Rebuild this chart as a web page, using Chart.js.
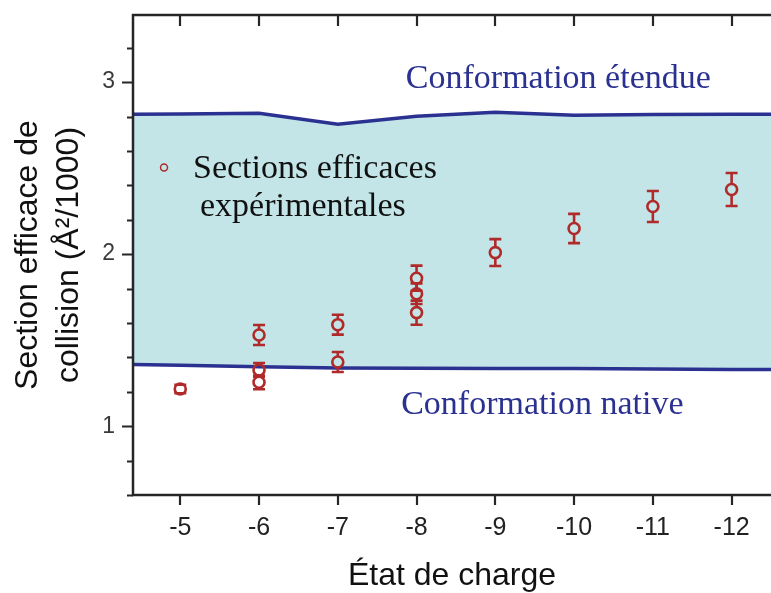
<!DOCTYPE html>
<html>
<head>
<meta charset="utf-8">
<script src="https://cdn.jsdelivr.net/npm/chart.js@4.4.1/dist/chart.umd.min.js"></script>
<style>
html,body{margin:0;padding:0;background:#ffffff;overflow:hidden;}
canvas{display:block;}
</style>
</head>
<body>
<canvas id="chart" width="771" height="593"></canvas>
<script>
// ---- Data ----
const chargeStates = [-5, -6, -6, -6, -7, -7, -8, -8, -8, -9, -10, -11, -12];
const ccsValues    = [1.216, 1.53, 1.327, 1.255, 1.59, 1.373, 1.86, 1.77, 1.66, 2.009, 2.149, 2.277, 2.376];
const ccsErrors    = [0.025, 0.058, 0.04, 0.04, 0.058, 0.058, 0.073, 0.06, 0.07, 0.078, 0.085, 0.09, 0.096];

const boundaryCharges = [-4.4, -5, -6, -7, -8, -9, -10, -11, -12, -12.5];
const extendedCCS     = [2.813, 2.815, 2.819, 2.755, 2.802, 2.825, 2.808, 2.812, 2.813, 2.813];
const nativeCCS       = [1.358, 1.354, 1.346, 1.338, 1.337, 1.336, 1.335, 1.333, 1.330, 1.329];

const xTickValues = [-5, -6, -7, -8, -9, -10, -11, -12];
const yTickLabels = [1, 2, 3];

const legendLabel = ['Sections efficaces', 'expérimentales'];
const extendedLabel = 'Conformation étendue';
const nativeLabel = 'Conformation native';
const xTitle = 'État de charge';
const yTitle = ['Section efficace de', 'collision (Å²/1000)'];

// ---- Styles ----
const RED = '#b02a2a';
const NAVY = '#2b3190';
const BAND = '#c3e5e8';
const AXIS = '#262626';

const toPoints = (xs, ys) => xs.map((x, i) => ({x: x, y: ys[i]}));

const errorBarPlugin = {
  id: 'errorBars',
  afterDatasetsDraw(chart) {
    const {ctx, scales: {x, y}} = chart;
    const r = 6;
    ctx.save();
    ctx.strokeStyle = RED;
    ctx.lineWidth = 2.6;
    ctx.lineCap = 'butt';
    chargeStates.forEach((c, i) => {
      const px = x.getPixelForValue(c);
      const py = y.getPixelForValue(ccsValues[i]);
      const top = y.getPixelForValue(ccsValues[i] + ccsErrors[i]);
      const bot = y.getPixelForValue(ccsValues[i] - ccsErrors[i]);
      ctx.beginPath();
      if (py - top > r) { ctx.moveTo(px, top); ctx.lineTo(px, py - r); }
      if (bot - py > r) { ctx.moveTo(px, py + r); ctx.lineTo(px, bot); }
      ctx.moveTo(px - 6, top); ctx.lineTo(px + 6, top);
      ctx.moveTo(px - 6, bot); ctx.lineTo(px + 6, bot);
      ctx.stroke();
    });
    ctx.restore();
  }
};

const framePlugin = {
  id: 'frame',
  afterDraw(chart) {
    const {ctx, chartArea: a, scales: {x, y}} = chart;
    ctx.save();
    ctx.strokeStyle = AXIS;
    ctx.lineWidth = 2.5;
    ctx.lineCap = 'butt';
    ctx.beginPath();
    ctx.moveTo(a.right + 5, a.top);
    ctx.lineTo(a.left, a.top);
    ctx.lineTo(a.left, a.bottom);
    ctx.lineTo(a.right + 5, a.bottom);
    ctx.stroke();
    ctx.lineWidth = 2.2;
    ctx.beginPath();
    y.ticks.forEach(t => {
      const v = t.value;
      if (Math.abs(v * 5 - Math.round(v * 5)) > 1e-6) return;
      const major = Math.abs(v - Math.round(v)) < 1e-6;
      const py = Math.round(y.getPixelForValue(v)) + 0.5;
      const len = major ? 11 : 6;
      ctx.moveTo(a.left - len, py);
      ctx.lineTo(a.left, py);
    });
    x.ticks.forEach(t => {
      const px = Math.round(x.getPixelForValue(t.value));
      ctx.moveTo(px, a.bottom);
      ctx.lineTo(px, a.bottom + 10);
      ctx.moveTo(px, a.top);
      ctx.lineTo(px, a.top + 11);
    });
    ctx.stroke();

    // legend
    ctx.strokeStyle = RED;
    ctx.lineWidth = 1.5;
    ctx.beginPath();
    ctx.arc(x.getPixelForValue(-4.794), y.getPixelForValue(2.504), 3.5, 0, Math.PI * 2);
    ctx.stroke();
    ctx.font = '34px "Liberation Serif", "Times New Roman", serif';
    ctx.textBaseline = 'middle';
    ctx.textAlign = 'left';
    ctx.fillStyle = '#111111';
    ctx.fillText(legendLabel[0], x.getPixelForValue(-5.162), y.getPixelForValue(2.493));
    ctx.fillText(legendLabel[1], x.getPixelForValue(-5.251), y.getPixelForValue(2.271));

    // annotations
    ctx.fillStyle = NAVY;
    ctx.textAlign = 'center';
    ctx.fillText(extendedLabel, x.getPixelForValue(-9.80), y.getPixelForValue(3.017));
    ctx.fillText(nativeLabel, x.getPixelForValue(-9.597), y.getPixelForValue(1.122));
    ctx.restore();
  }
};

new Chart(document.getElementById('chart'), {
  type: 'scatter',
  data: {
    datasets: [
      {
        label: 'native',
        data: toPoints(boundaryCharges, nativeCCS),
        showLine: true,
        borderColor: NAVY,
        borderWidth: 3.5,
        pointRadius: 0,
        tension: 0,
        fill: false,
        order: 3
      },
      {
        label: 'extended',
        data: toPoints(boundaryCharges, extendedCCS),
        showLine: true,
        borderColor: NAVY,
        borderWidth: 3.5,
        pointRadius: 0,
        tension: 0,
        fill: {target: 0},
        backgroundColor: BAND,
        order: 2
      },
      {
        label: 'exp',
        data: toPoints(chargeStates, ccsValues),
        showLine: false,
        pointStyle: 'circle',
        pointRadius: 5.5,
        borderWidth: 2.6,
        borderColor: RED,
        backgroundColor: 'rgba(0,0,0,0)',
        order: 1
      }
    ]
  },
  options: {
    responsive: false,
    animation: false,
    devicePixelRatio: 1,
    layout: {autoPadding: false, padding: {top: 15, left: 0, right: 0, bottom: 0}},
    plugins: {
      legend: {display: false},
      tooltip: {enabled: false},
      filler: {drawTime: 'beforeDatasetsDraw'}
    },
    scales: {
      x: {
        type: 'linear',
        reverse: true,
        min: -12.5,
        max: -4.4,
        afterBuildTicks(s) { s.ticks = xTickValues.map(v => ({value: v})); },
        afterFit(s) { s.height = 98; s.paddingLeft = 0; s.paddingRight = 0; },
        grid: {display: false, drawTicks: false},
        border: {display: false},
        ticks: {
          autoSkip: false,
          maxRotation: 0,
          padding: 18,
          color: '#222222',
          font: {family: '"Liberation Sans", Arial, sans-serif', size: 25},
          callback: v => String(v)
        },
        title: {
          display: true,
          text: xTitle,
          color: '#111111',
          padding: {top: 0, bottom: 0},
          font: {family: '"Liberation Sans", Arial, sans-serif', size: 32, lineHeight: 1.05}
        }
      },
      y: {
        type: 'linear',
        min: 0.6,
        max: 3.39,
        afterFit(s) { s.width = 133; s.paddingTop = 0; s.paddingBottom = 0; },
        grid: {display: false, drawTicks: false},
        border: {display: false},
        ticks: {
          stepSize: 0.2,
          autoSkip: false,
          padding: 18,
          color: '#3a3a3a',
          font: {family: '"Liberation Sans", Arial, sans-serif', size: 23},
          callback: v => (yTickLabels.some(t => Math.abs(t - v) < 1e-6) ? String(Math.round(v)) : '')
        },
        title: {
          display: true,
          text: yTitle,
          color: '#111111',
          padding: {top: 7, bottom: 0},
          font: {family: '"Liberation Sans", Arial, sans-serif', size: 32, lineHeight: 1.3}
        }
      }
    }
  },
  plugins: [errorBarPlugin, framePlugin]
});
</script>
</body>
</html>
